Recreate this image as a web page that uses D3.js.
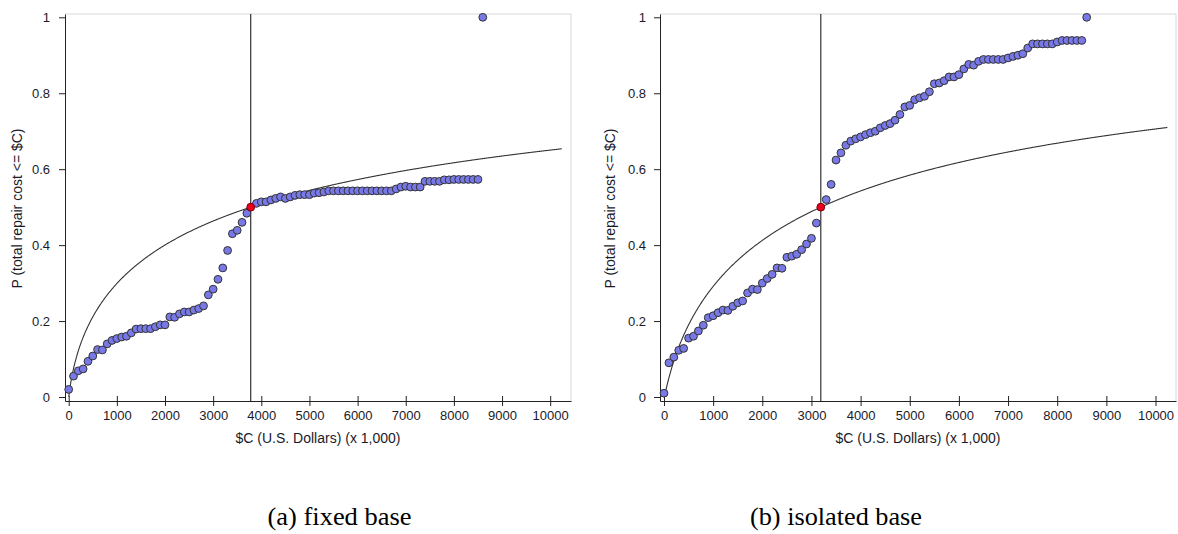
<!DOCTYPE html>
<html>
<head>
<meta charset="utf-8">
<script src="https://cdn.jsdelivr.net/npm/d3@7"></script>
<style>
  html, body { margin: 0; padding: 0; background: #fff; }
  svg { display: block; }
</style>
</head>
<body>
<svg id="chart" width="1178" height="534"></svg>
<script>
// ---------- DATA ----------
// (a) fixed base: repair cost (x 1,000 $) and cumulative probability
const costA = [0,100,200,300,400,500,600,700,800,900,1000,1100,1200,1300,1400,1500,1600,1700,1800,1900,
  2000,2100,2200,2300,2400,2500,2600,2700,2800,2900,3000,3100,3200,3300,3400,3500,3600,3700,
  3900,4000,4100,4200,4300,4400,4500,4600,4700,4800,4900,5000,5100,5200,5300,5400,5500,5600,5700,5800,5900,
  6000,6100,6200,6300,6400,6500,6600,6700,6800,6900,7000,7100,7200,7300,7400,7500,7600,7700,7800,7900,
  8000,8100,8200,8300,8400,8500,8600];
const probA = [0.020,0.055,0.069,0.074,0.094,0.108,0.125,0.124,0.140,0.149,0.154,0.158,0.160,0.169,0.179,0.180,0.180,0.180,0.185,0.190,
  0.190,0.211,0.210,0.219,0.224,0.224,0.229,0.233,0.240,0.269,0.284,0.310,0.340,0.386,0.430,0.439,0.460,0.484,
  0.510,0.514,0.514,0.519,0.523,0.527,0.523,0.527,0.531,0.533,0.533,0.533,0.537,0.538,0.540,0.543,0.543,0.543,0.543,0.543,0.543,
  0.543,0.543,0.543,0.543,0.543,0.543,0.543,0.543,0.548,0.553,0.555,0.553,0.553,0.553,0.568,0.568,0.568,0.568,0.572,0.572,
  0.573,0.573,0.573,0.573,0.573,0.573,1.000];
const medianA = 3780;   // median repair cost (red point / vertical line)
const betaA = 2.52;     // lognormal dispersion of fitted curve

// (b) isolated base
const costB = [0,100,200,300,400,500,600,700,800,900,1000,1100,1200,1300,1400,1500,1600,1700,1800,1900,
  2000,2100,2200,2300,2400,2500,2600,2700,2800,2900,3000,3100,
  3300,3400,3500,3600,3700,3800,3900,4000,4100,4200,4300,4400,4500,4600,4700,4800,4900,5000,5100,5200,5300,5400,5500,5600,5700,5800,5900,
  6000,6100,6200,6300,6400,6500,6600,6700,6800,6900,7000,7100,7200,7300,7400,7500,7600,7700,7800,7900,
  8000,8100,8200,8300,8400,8500,8600];
const probB = [0.010,0.090,0.105,0.123,0.128,0.155,0.160,0.174,0.189,0.209,0.214,0.222,0.229,0.228,0.239,0.248,0.253,0.274,0.284,0.283,
  0.300,0.312,0.323,0.340,0.339,0.368,0.371,0.376,0.388,0.403,0.418,0.458,
  0.520,0.560,0.624,0.643,0.663,0.674,0.680,0.685,0.691,0.696,0.700,0.709,0.715,0.720,0.729,0.744,0.764,0.768,0.783,0.788,0.792,0.804,0.825,0.827,0.833,0.843,0.843,
  0.849,0.864,0.876,0.874,0.884,0.889,0.889,0.889,0.889,0.889,0.893,0.897,0.900,0.904,0.919,0.930,0.930,0.930,0.930,0.930,
  0.935,0.939,0.939,0.939,0.939,0.939,1.000];
const medianB = 3190;
const betaB = 2.11;

const xTicks = [0,1000,2000,3000,4000,5000,6000,7000,8000,9000,10000];
const yTicks = [0,0.2,0.4,0.6,0.8,1];
const curveEnd = 10250;

const xTitle = "$C (U.S. Dollars) (x 1,000)";
const yTitle = "P (total repair cost <= $C)";
const captions = ["(a) fixed base", "(b) isolated base"];

// ---------- HELPERS ----------
function erf(x) {
  const s = Math.sign(x); x = Math.abs(x);
  const t = 1 / (1 + 0.3275911 * x);
  const y = 1 - (((((1.061405429 * t - 1.453152027) * t) + 1.421413741) * t - 0.284496736) * t + 0.254829592) * t * Math.exp(-x * x);
  return s * y;
}
const normCdf = z => 0.5 * (1 + erf(z / Math.SQRT2));
const lognCdf = (x, m, b) => x <= 0 ? 0 : normCdf(Math.log(x / m) / b);

// ---------- DRAW ----------
const SANS = "'Liberation Sans', Arial, sans-serif";
const SERIF = "'Liberation Serif', 'Times New Roman', serif";
const svg = d3.select("#chart");

const panels = [
  { cost: costA, prob: probA, median: medianA, beta: betaA, caption: captions[0], capW: 144,
    left: 65, right: 571, xDom: [-76.8, 10432], yLabelPad: 9, yTitleX: 17, capX: 339.5 },
  { cost: costB, prob: probB, median: medianB, beta: betaB, caption: captions[1], capW: 172,
    left: 660, right: 1176, xDom: [-81.4, 10417], yLabelPad: 8, yTitleX: 610, capX: 836 }
];
const plotTop = 14, plotBottom = 401;

panels.forEach(p => {
  const x = d3.scaleLinear().domain(p.xDom).range([p.left, p.right]);
  const y = d3.scaleLinear().domain([-0.0105, 1.0087]).range([plotBottom, plotTop]);
  const g = svg.append("g");

  // light frame (top & right)
  g.append("path")
    .attr("d", `M${p.left},${plotTop}H${p.right}V${plotBottom}`)
    .attr("fill", "none").attr("stroke", "#d8d8d8").attr("stroke-width", 1);

  // x axis
  const gx = g.append("g").attr("transform", `translate(0,${plotBottom})`)
    .call(d3.axisBottom(x).tickValues(xTicks).tickSizeInner(6).tickSizeOuter(0).tickPadding(4).tickFormat(d3.format("d")));
  gx.selectAll(".tick line").attr("y1", -5).attr("y2", 5).attr("stroke", "#222");
  gx.select(".domain").attr("stroke", "#222");
  gx.selectAll("text").style("font-size", "13px").style("font-family", SANS).attr("fill", "#1a1a2a");

  // y axis
  const gy = g.append("g").attr("transform", `translate(${p.left},0)`)
    .call(d3.axisLeft(y).tickValues(yTicks).tickSizeInner(6).tickSizeOuter(0).tickPadding(p.yLabelPad).tickFormat(d3.format("~g")));
  gy.select(".domain").attr("stroke", "#222");
  gy.selectAll(".tick line").attr("stroke", "#222");
  gy.selectAll("text").style("font-size", "13px").style("font-family", SANS).attr("fill", "#1a1a2a");

  // titles
  g.append("text").attr("x", (p.left + p.right) / 2).attr("y", 443)
    .attr("text-anchor", "middle").style("font-size", "14px").style("font-family", SANS)
    .attr("fill", "#1a1a2a").text(xTitle);
  g.append("text").attr("transform", `translate(${p.yTitleX + 5},${(plotTop + plotBottom) / 2 + 1}) rotate(-90)`)
    .attr("text-anchor", "middle").style("font-size", "14px").style("font-family", SANS)
    .attr("fill", "#1a1a2a").text(yTitle);

  // fitted lognormal curve
  const cx = d3.range(1, curveEnd + 1, 10);
  g.append("path")
    .datum(cx)
    .attr("fill", "none").attr("stroke", "#333").attr("stroke-width", 1.1)
    .attr("d", d3.line().x(d => x(d)).y(d => y(lognCdf(d, p.median, p.beta))));

  // median vertical line
  g.append("line")
    .attr("x1", x(p.median)).attr("x2", x(p.median))
    .attr("y1", plotTop).attr("y2", plotBottom)
    .attr("stroke", "#333").attr("stroke-width", 1.2);

  // data points
  g.selectAll("circle.pt").data(p.cost.map((c, i) => [c, p.prob[i]]))
    .join("circle").attr("class", "pt")
    .attr("cx", d => x(d[0])).attr("cy", d => y(d[1])).attr("r", 3.9)
    .attr("fill", "#7878e6").attr("stroke", "#333").attr("stroke-width", 1);

  // median point
  g.append("circle")
    .attr("cx", x(p.median)).attr("cy", y(0.5)).attr("r", 3.9)
    .attr("fill", "#e8001c").attr("stroke", "#7a0010").attr("stroke-width", 1);

  // caption
  svg.append("text").attr("x", p.capX).attr("y", 525)
    .attr("text-anchor", "middle")
    .style("font-family", SERIF).style("font-size", "25px")
    .attr("fill", "#000")
    .attr("textLength", p.capW)
    .attr("lengthAdjust", "spacingAndGlyphs")
    .text(p.caption);
});
</script>
</body>
</html>
